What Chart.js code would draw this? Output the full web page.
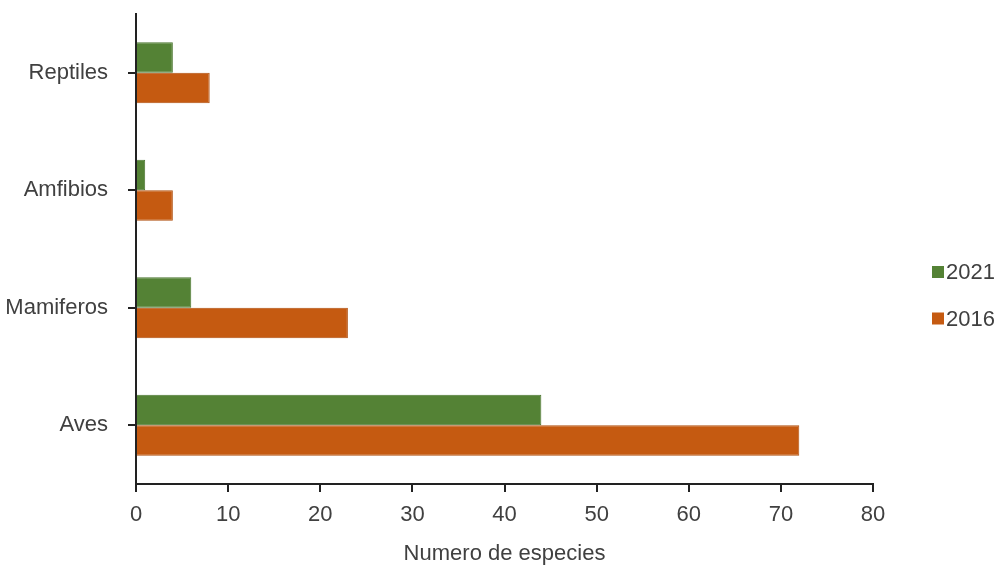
<!DOCTYPE html>
<html lang="es">
<head>
    <meta charset="UTF-8">
    <title>Numero de especies</title>
    <script src="https://cdn.jsdelivr.net/npm/chart.js"></script>
    <style>
        html, body { margin: 0; padding: 0; background: #fff; }
        #wrap { width: 995px; height: 567px; }
    </style>
</head>
<body>
    <div id="wrap"><canvas id="grafico"></canvas></div>
    <script>
        // datos
        const categorias = ['Reptiles', 'Amfibios', 'Mamiferos', 'Aves'];
        const anios = ['2021', '2016'];
        const valores2021 = [4, 1, 6, 44];
        const valores2016 = [8, 4, 23, 72];
        const ticksX = [0, 10, 20, 30, 40, 50, 60, 70, 80];

        const verde = '#548235';
        const naranja = '#C55A11';
        const texto = '#404040';
        const fuente = "'Liberation Sans', Arial, sans-serif";
        const tam = 22;

        Chart.defaults.font.family = fuente;
        Chart.defaults.font.size = tam;
        Chart.defaults.color = texto;

        // leyenda a la derecha, dibujada a mano
        const leyenda = {
            id: 'leyenda',
            afterDraw(chart) {
                const ctx = chart.ctx;
                ctx.save();
                ctx.font = tam + 'px ' + fuente;
                ctx.textBaseline = 'middle';
                ctx.textAlign = 'left';
                chart.data.datasets.forEach((ds, i) => {
                    const y = 272 + i * 46.5;
                    ctx.fillStyle = ds.backgroundColor;
                    ctx.fillRect(932, y - 6, 12, 12);
                    ctx.fillStyle = texto;
                    ctx.fillText(ds.label, 946, y + 1);
                });
                ctx.restore();
            }
        };

        new Chart(document.getElementById('grafico'), {
            type: 'bar',
            data: {
                labels: categorias,
                datasets: [
                    {
                        label: anios[0],
                        data: valores2021,
                        backgroundColor: verde,
                        borderColor: '#4a752f',
                        borderWidth: 1
                    },
                    {
                        label: anios[1],
                        data: valores2016,
                        backgroundColor: naranja,
                        borderColor: '#b04f0e',
                        borderWidth: 1
                    }
                ]
            },
            options: {
                indexAxis: 'y',
                responsive: true,
                maintainAspectRatio: false,
                animation: false,
                layout: { padding: { top: 14, right: 122, left: 0, bottom: 0 } },
                datasets: {
                    bar: { categoryPercentage: 0.52, barPercentage: 1 }
                },
                plugins: {
                    legend: { display: false },
                    tooltip: { enabled: false }
                },
                scales: {
                    x: {
                        min: 0,
                        max: 80,
                        afterBuildTicks: s => { s.ticks = ticksX.map(v => ({ value: v })); },
                        afterFit: s => { s.height = 83; s.paddingLeft = 0; },
                        border: { color: '#222', width: 2 },
                        grid: { drawOnChartArea: false, drawTicks: true, tickLength: 8, color: '#222', lineWidth: 2 },
                        ticks: { padding: 10, color: texto },
                        title: {
                            display: true,
                            text: 'Numero de especies',
                            color: texto,
                            font: { size: tam, lineHeight: 1 },
                            padding: { top: 0, bottom: 2 }
                        }
                    },
                    y: {
                        afterFit: s => { s.width = 136; s.paddingTop = 0; s.paddingBottom = 0; },
                        border: { color: '#222', width: 2 },
                        grid: { offset: false, drawOnChartArea: false, drawTicks: true, tickLength: 8, color: '#222', lineWidth: 2 },
                        ticks: { padding: 20, color: texto }
                    }
                }
            },
            plugins: [leyenda]
        });
    </script>
</body>
</html>
